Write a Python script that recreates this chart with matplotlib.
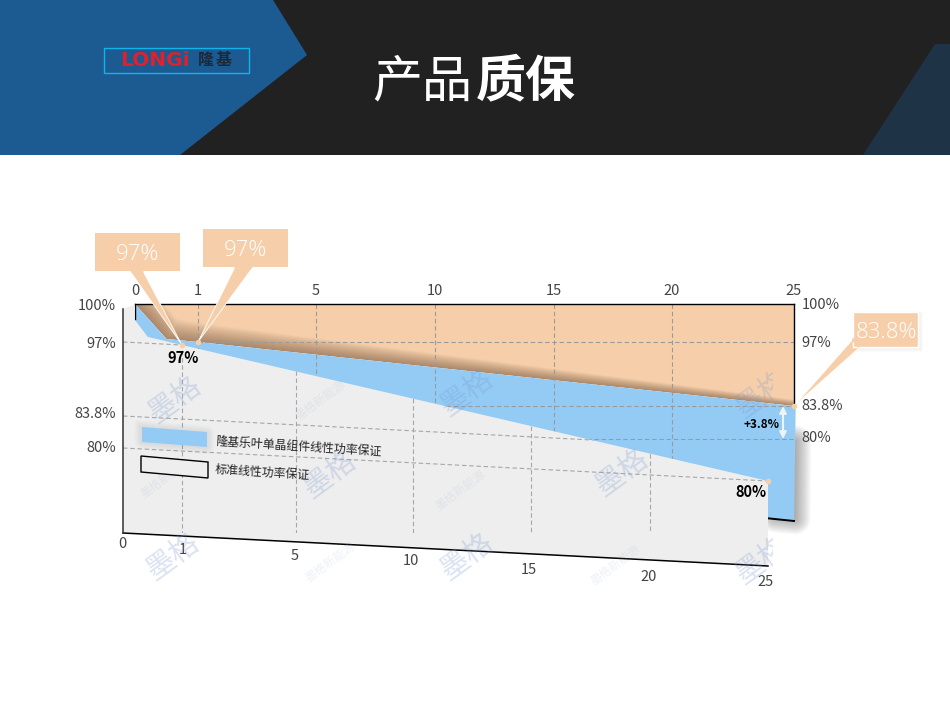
import numpy as np
import matplotlib
matplotlib.use("Agg")
import matplotlib.pyplot as plt
from matplotlib.patches import Polygon, Rectangle
from matplotlib.transforms import Affine2D

plt.rcParams['font.family'] = ['Noto Sans CJK SC', 'DejaVu Sans']

# ---- data ----
tick_years = [0, 1, 5, 10, 15, 20, 25]
tick_pcts = [100, 97, 83.8, 80]
tick_pct_labels = ['100%', '97%', '83.8%', '80%']
longi_years = [0, 0.5, 1, 25]
longi_pct = [100, 97.24, 97, 83.8]
std_years = [0, 0.2, 0.2, 0.42, 1, 25]
std_pct = [99.6, 100, 98.8, 97.5, 97, 80]
legend_labels = ['隆基乐叶单晶组件线性功率保证', '标准线性功率保证']
callout_labels = ['97%', '97%', '83.8%']
title_light = '产品'
title_bold = '质保'
delta_label = '+3.8%'

# ---- layout ----
W, H = 950, 714
pct_stops = [0, 80, 83.8, 97, 100]
back_x = [135, 198, 316, 435, 554, 672, 794]
back_y = [521, 439, 406, 342, 304]
front_x = [123, 182, 296, 413, 531, 650, 768]
front_y = [533, 448, 416, 342, 304]
SKEW = 33 / 645
GRID = '#9a9a9a'
TXT = '#444444'
PEACH = '#F6CFAA'
BLUE = '#93CBF5'
GRAY = '#EEEEEE'


def make_scale(ax, xpos, ypos):
    xs = list(tick_years) + [26]
    xp = list(xpos) + [xpos[-1] + (xpos[-1] - xpos[-2]) / 5]
    yn = [-v for v in ypos]
    ax.set_xscale('function', functions=(lambda v: np.interp(v, xs, xp),
                                         lambda v: np.interp(v, xp, xs)))
    ax.set_yscale('function', functions=(lambda v: np.interp(v, pct_stops, yn),
                                         lambda v: np.interp(v, yn, pct_stops)))
    ax.set_xlim(0, 25)
    ax.set_ylim(0, 100)
    ax.set_autoscale_on(False)
    ax.patch.set_visible(False)
    for s in ax.spines.values():
        s.set_visible(False)


def box(x0, x1, y0, y1):
    return [x0 / W, 1 - y1 / H, (x1 - x0) / W, (y1 - y0) / H]


fig = plt.figure(figsize=(W / 100, H / 100), dpi=100, facecolor='white')

# pixel canvas, behind
bg = fig.add_axes([0, 0, 1, 1], zorder=0)
bg.set_xlim(0, W); bg.set_ylim(H, 0); bg.axis('off')
# overlay canvas, in front
top = fig.add_axes([0, 0, 1, 1], zorder=5)
top.set_xlim(0, W); top.set_ylim(H, 0); top.axis('off')
top.patch.set_visible(False)

# header
bg.add_patch(Rectangle((0, 0), W, 155, color='#212121', lw=0))
bg.add_patch(Polygon([(0, 0), (273, 0), (307, 55), (180, 155), (0, 155)], color='#1C5A92', lw=0))
bg.add_patch(Polygon([(935, 44), (950, 44), (950, 155), (863, 155)], color='#1F3347', lw=0))
bg.add_patch(Rectangle((103.5, 47.5), 145, 25, fc='none', ec='#0FB4EA', lw=1))
bg.text(154.5, 60.5, 'LONGi', color='#E0202A', fontsize=14.5, fontweight='bold', family='DejaVu Sans',
        ha='center', va='center')
bg.text(198, 60.5, '隆', color='#1A2A38', fontsize=11.5, fontweight='bold', ha='left', va='center')
bg.text(232, 60.5, '基', color='#1A2A38', fontsize=11.5, fontweight='bold', ha='right', va='center')
bg.text(372, 82, title_light, color='white', fontsize=36, fontweight='light', ha='left', va='center')
bg.text(476, 82, title_bold, color='white', fontsize=36, fontweight='bold', ha='left', va='center')

# back plane
back = fig.add_axes(box(back_x[0], back_x[-1], 304, 521), zorder=1)
make_scale(back, back_x, back_y)
back.set_xticks(tick_years, [str(v) for v in tick_years], fontsize=10.5, color=TXT)
back.xaxis.tick_top()
back.yaxis.tick_right()
back.set_yticks(tick_pcts, tick_pct_labels, fontsize=10.5, color=TXT)
back.tick_params(length=0)
back.tick_params(axis='x', pad=4)
back.tick_params(axis='y', pad=5.5)
for tick, dy in zip(back.yaxis.get_major_ticks(), [1, 1, 2, 3]):
    tick.label2.set_transform(tick.label2.get_transform() + Affine2D().translate(0, dy))

orange = Polygon(list(zip(longi_years, longi_pct)) + [(25, 100)], fc=PEACH, ec='none', zorder=1, clip_on=False)
back.add_patch(orange)
blue_pts = list(zip(longi_years, longi_pct)) + [(25.07, 83.8), (25.0, 0), (23.9, 2.7), (0, 30)]
blue = Polygon(blue_pts, fc=BLUE, ec='none', zorder=2, clip_on=False)
back.add_patch(blue)

# shadow on orange, tapering to the right
tp = back.transData.transform(np.column_stack([longi_years, longi_pct]))
tp[:, 1] = H - tp[:, 1]
taper = np.array([1.0, 1.0, 0.9, 0.3])
for k in range(1, 19):
    up = tp + np.column_stack([0.6 * k * taper, -1.1 * k * taper])
    poly = np.vstack([tp, up[::-1]])
    pp = Polygon(poly, fc='#4A2E18', ec='none', alpha=0.026, zorder=1.5, transform=bg.transData)
    back.add_patch(pp)
    pp.set_clip_path(orange)

# shadow of the right blue edge
bp = back.transData.transform(np.array([(25.03, 78), (25.0, 2), (24.2, 4)]))
bp[:, 1] = H - bp[:, 1]
for k in range(1, 19):
    bg.plot(bp[:, 0] + 1, bp[:, 1], color='#303030', lw=k * 1.25, alpha=0.024,
            solid_capstyle='round', solid_joinstyle='round', zorder=1)

# back dashes
dash = dict(color=GRID, lw=0.8, ls=(0, (4, 2.5)), zorder=3, clip_on=False)
for y in tick_years[1:-1]:
    back.plot([y, y], [100, 0], **dash)
back.plot([1, 25], [97, 97], **dash)
back.plot([5, 25], [83.8, 83.8], **dash)
back.plot([10, 25], [80, 80], **dash)
edge = dict(color='black', lw=1.0, zorder=4, clip_on=False, solid_capstyle='projecting')
back.plot([0, 25], [100, 100], **edge)
back.plot([25, 25], [100, 83.8], **edge)
back.plot([0, 0], [100, 98.8], **edge)
back.plot([23.9, 25.0], [2.7, 0], color='black', lw=1.4, zorder=4, clip_on=False)

# front plane (skewed)
front = fig.add_axes(box(front_x[0], front_x[-1], 304, 533), zorder=2)
make_scale(front, front_x, front_y)
front.set_xticks([])
front.set_yticks(tick_pcts, tick_pct_labels, fontsize=10.5, color=TXT)
front.tick_params(length=0, pad=5)
for tick, dy in zip(front.yaxis.get_major_ticks(), [0, -1, 3, 1]):
    tick.label1.set_transform(tick.label1.get_transform() + Affine2D().translate(0, dy))
skew = Affine2D.from_values(1, -SKEW, 0, 1, 0, SKEW * front_x[0])
ftf = front.transData + skew

gray_pts = list(zip(std_years, std_pct)) + [(25, 0), (0, 0)]
gray = Polygon(gray_pts, fc=GRAY, ec='none', transform=ftf, zorder=1, clip_on=False)
front.add_patch(gray)
fd = dict(color='#a6a6a6', lw=0.8, ls=(0, (4, 2.5)), zorder=2, transform=ftf)
for y in tick_years[1:-1]:
    l, = front.plot([y, y], [100, 0], **fd)
    l.set_clip_path(gray)
for p in tick_pcts[1:]:
    l, = front.plot([0, 25], [p, p], **fd)
    l.set_clip_path(gray)
front.plot([0, 25], [0, 0], color='black', lw=1.1, transform=ftf, zorder=3, clip_on=False)
front.plot([0, 0], [0, 99.6], color='#333333', lw=1.1, transform=ftf, zorder=3, clip_on=False)

offs = [-11, -14, -14, -13, -16, -17, -16]
dxs = [-1, 1, -1, -2, -2, -1, -2]
for y, d, dx in zip(tick_years, offs, dxs):
    front.annotate(str(y), xy=(y, 0), xycoords=ftf, xytext=(dx, d), textcoords='offset pixels',
                   ha='center', va='center', fontsize=10.5, color=TXT, annotation_clip=False)


def px(tr, xy):
    d = tr.transform(xy)
    return (d[0], H - d[1])


# labels on chart
tip_front = px(ftf, (1, 97))
tip_back = px(back.transData, (1, 97))
tip_right = px(back.transData, (25, 83.8))
tip_std = px(ftf, (25, 80))
top.text(tip_front[0] + 1, tip_front[1] + 13, '97%', fontsize=10.5, fontweight='bold', color='black', ha='center', va='center')
top.text(tip_std[0] - 1, tip_std[1] + 11, '80%', fontsize=10.5, fontweight='bold', color='black', ha='right', va='center')
top.text(tip_right[0] - 15, 424, delta_label, fontsize=8.5, fontweight='bold', color='black', ha='right', va='center')
top.annotate('', xy=px(back.transData, (24.55, 83.8)), xytext=px(back.transData, (24.55, 80)),
             arrowprops=dict(arrowstyle='<|-|>', color='#EEF3F7', lw=1.5, shrinkA=0, shrinkB=0, mutation_scale=10))

# legend
for k in range(1, 9):
    top.plot([143, 206, 206, 143, 143], [429, 434, 446, 441, 429], color='#606060', lw=k * 1.5,
             alpha=0.016, zorder=1, solid_joinstyle='round')
top.add_patch(Polygon([(142, 427), (207, 432), (207, 447), (142, 442)], fc=BLUE, ec='none', zorder=2))
top.add_patch(Polygon([(141, 456), (208, 462), (208, 478), (141, 472)], fc=GRAY, ec='black', lw=1, zorder=2))
top.text(215, 441.5, legend_labels[0], fontsize=8.6, color='#222222', rotation=-3.6, rotation_mode='anchor',
         ha='left', va='center', zorder=2)
top.text(215, 469, legend_labels[1], fontsize=8.6, color='#222222', rotation=-3.6, rotation_mode='anchor',
         ha='left', va='center', zorder=2)

# watermarks
for x, y in [(175, 400), (330, 475), (467, 393), (622, 473), (173, 557), (467, 557), (762, 395), (762, 561)]:
    t = top.text(x, y, '墨格', fontsize=21, color='#7C9BD0', alpha=0.28, rotation=36, ha='center', va='center', zorder=1.5)
    if x > 700:
        t.set_clip_on(True)
        t.set_clip_path(Rectangle((700, 300), 73, 300, transform=top.transData))
for x, y in [(165, 478), (320, 400), (460, 490), (330, 562), (615, 565)]:
    top.text(x, y, '墨格新能源', fontsize=8.5, color='#8AA3C8', alpha=0.15, rotation=36, ha='center', va='center', zorder=1.5)

# callouts
callouts = [
    ((95, 233, 180, 271), [(130, 271), (143, 271)], tip_front),
    ((203, 229, 288, 267), [(235, 267), (253, 267)], tip_back),
    ((853, 312, 918, 347), [(853, 339), (860, 347)], tip_right),
]
for i, ((x0, y0, x1, y1), base, tip) in enumerate(callouts):
    if i == 2:
        for k in range(1, 7):
            top.add_patch(Rectangle((x0 + 2 - k / 2, y0 + 2 - k / 2), x1 - x0 + k, y1 - y0 + k, fc='#555555', ec='none', alpha=0.012, zorder=5))
    top.add_patch(Polygon([base[0], tip, base[1]], fc=PEACH, ec='white', lw=0.6, zorder=6))
    top.add_patch(Rectangle((x0, y0), x1 - x0, y1 - y0, fc=PEACH, ec='white' if i == 2 else 'none', lw=1, zorder=6.1))
    top.add_patch(Polygon([(base[0][0] + (tip[0] - base[0][0]) * .02, base[0][1] + (tip[1] - base[0][1]) * .02),
                           (base[0][0], base[0][1] - 1.5), (base[1][0], base[1][1] - 1.5),
                           (base[1][0] + (tip[0] - base[1][0]) * .02, base[1][1] + (tip[1] - base[1][1]) * .02)],
                          fc=PEACH, ec='none', zorder=6.2))
    top.text((x0 + x1) / 2 + (1 if i == 2 else 0), (y0 + y1) / 2 + 2.5, callout_labels[i], fontsize=16, color='white', family='Open Sans',
             fontweight='light', ha='center', va='center', zorder=7)

for p in [tip_front, tip_back, tip_right, tip_std]:
    top.plot(*p, 'o', ms=4, color=PEACH, mec='none', zorder=8)

fig.savefig('out.png', dpi=100)
